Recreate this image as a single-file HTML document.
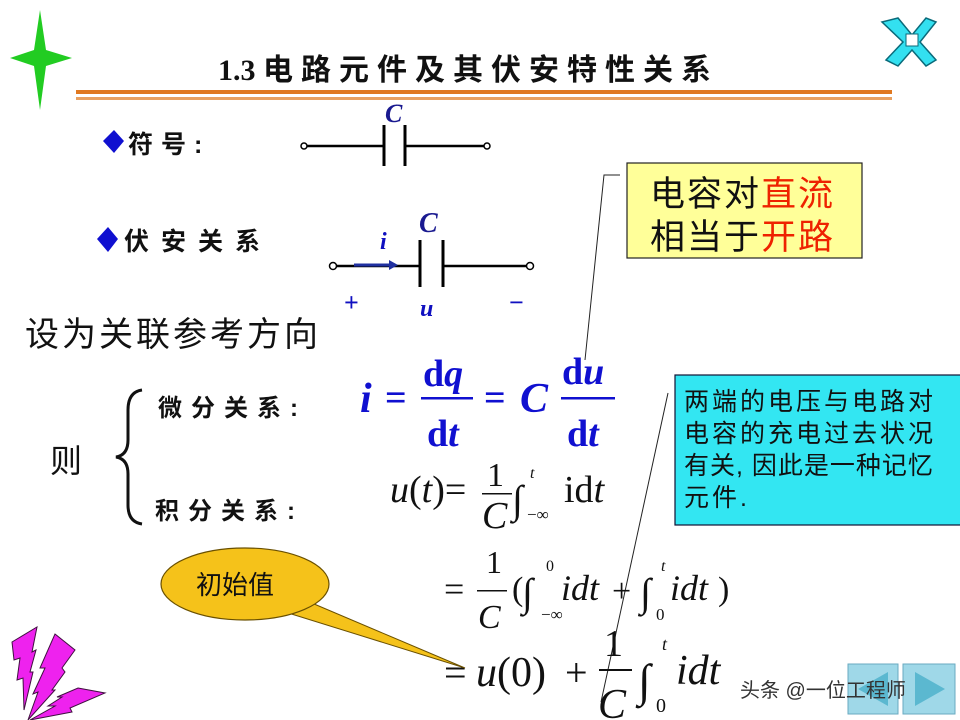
<!DOCTYPE html>
<html><head><meta charset="utf-8"><style>
html,body{margin:0;padding:0;background:#fff;}
svg{display:block;}
.cn{font-family:"Liberation Sans","Noto Sans CJK SC",sans-serif;}
.sf{font-family:"Liberation Serif","Noto Serif CJK SC",serif;}
</style></head><body>
<svg width="960" height="720" viewBox="0 0 960 720" xmlns="http://www.w3.org/2000/svg">
<polygon points="40,10 46,50 72,58 46,66 40,110 34,66 10,58 34,50" fill="#22cc22"/>
<g stroke="#0a6a7a" stroke-width="1.5" fill="#33e0f0">
<polygon points="882,22 898,18 912,35 926,18 936,22 920,42 936,60 926,66 912,50 898,66 886,60 903,42"/>
</g>
<rect x="906" y="34" width="12" height="12" fill="#fff" stroke="#0a6a7a"/>
<text x="218" y="80" font-size="30" font-weight="bold" fill="#111" style="font-family:'Liberation Serif','Noto Sans CJK SC',serif"><tspan>1.3 </tspan><tspan font-size="30" letter-spacing="8">电路元件及其伏安特性关系</tspan></text>
<rect x="76" y="90" width="816" height="4" fill="#e07820"/>
<rect x="76" y="97" width="816" height="3" fill="#e8a060"/>
<polygon points="114,130 124,141 114,153 103,141" fill="#1010d0"/>
<text x="128" y="153" class="cn" font-size="25" font-weight="bold" fill="#111" letter-spacing="8">符号:</text>
<line x1="306" y1="146" x2="384" y2="146" stroke="#000" stroke-width="2.5"/>
<line x1="405" y1="146" x2="485" y2="146" stroke="#000" stroke-width="2.5"/>
<line x1="384" y1="125" x2="384" y2="166" stroke="#000" stroke-width="3"/>
<line x1="405" y1="125" x2="405" y2="166" stroke="#000" stroke-width="3"/>
<circle cx="304" cy="146" r="3" fill="#fff" stroke="#000" stroke-width="1.5"/>
<circle cx="487" cy="146" r="3" fill="#fff" stroke="#000" stroke-width="1.5"/>
<text x="385" y="122" class="sf" font-size="26" font-weight="bold" font-style="italic" fill="#1a1a90">C</text>
<polygon points="108,227 118,239 108,252 97,239" fill="#1010d0"/>
<text x="124" y="250" class="cn" font-size="25" font-weight="bold" fill="#111" letter-spacing="12">伏安关系</text>
<line x1="334" y1="266" x2="420" y2="266" stroke="#000" stroke-width="2.5"/>
<line x1="443" y1="266" x2="528" y2="266" stroke="#000" stroke-width="2.5"/>
<line x1="420" y1="240" x2="420" y2="287" stroke="#000" stroke-width="3"/>
<line x1="443" y1="240" x2="443" y2="287" stroke="#000" stroke-width="3"/>
<circle cx="333" cy="266" r="3.5" fill="#fff" stroke="#000" stroke-width="1.5"/>
<circle cx="530" cy="266" r="3.5" fill="#fff" stroke="#000" stroke-width="1.5"/>
<line x1="354" y1="265" x2="392" y2="265" stroke="#2030a0" stroke-width="3"/>
<polygon points="398,265 389,260 389,270" fill="#2030a0"/>
<text x="419" y="232" class="sf" font-size="28" font-weight="bold" font-style="italic" fill="#1a1a90">C</text>
<text x="380" y="249" class="sf" font-size="24" font-weight="bold" font-style="italic" fill="#1010c0">i</text>
<text x="344" y="311" class="sf" font-size="26" font-weight="bold" fill="#1010c0">+</text>
<text x="420" y="316" class="sf" font-size="24" font-weight="bold" font-style="italic" fill="#1010c0">u</text>
<text x="509" y="311" class="sf" font-size="26" font-weight="bold" fill="#1010c0">−</text>
<rect x="627" y="163" width="235" height="95" fill="#ffff99" stroke="#222" stroke-width="1.2"/>
<text x="650" y="206" class="cn" font-size="35" fill="#111" letter-spacing="2">电容对<tspan fill="#ee2200">直流</tspan></text>
<text x="650" y="249" class="cn" font-size="35" fill="#111" letter-spacing="2">相当于<tspan fill="#ee2200">开路</tspan></text>
<polyline points="620,175 604,175 585,360" fill="none" stroke="#222" stroke-width="1"/>
<text x="25" y="346" class="cn" font-size="34" fill="#111" letter-spacing="3">设为关联参考方向</text>
<text x="50" y="472" class="cn" font-size="32" fill="#111">则</text>
<path d="M142,390 Q128,392 128,410 L128,440 Q128,455 116,457 Q128,459 128,474 L128,505 Q128,522 142,524" fill="none" stroke="#111" stroke-width="3"/>
<text x="158" y="416" class="cn" font-size="24" font-weight="bold" fill="#111" letter-spacing="9">微分关系:</text>
<text x="155" y="519" class="cn" font-size="24" font-weight="bold" fill="#111" letter-spacing="9">积分关系:</text>
<g class="sf" fill="#1010d0" font-weight="bold">
<text x="360" y="412" font-size="42" font-style="italic">i</text>
<text x="385" y="410" font-size="38">=</text>
<text x="423" y="386" font-size="38">d<tspan font-style="italic">q</tspan></text>
<rect x="421" y="397" width="52" height="2.5"/>
<text x="427" y="446" font-size="38">d<tspan font-style="italic">t</tspan></text>
<text x="484" y="410" font-size="38">=</text>
<text x="520" y="412" font-size="42" font-style="italic">C</text>
<text x="562" y="384" font-size="38">d<tspan font-style="italic">u</tspan></text>
<rect x="561" y="397" width="54" height="2.5"/>
<text x="567" y="446" font-size="38">d<tspan font-style="italic">t</tspan></text>
</g>
<rect x="675" y="375" width="290" height="150" fill="#33e6f2" stroke="#113" stroke-width="1.2"/>
<g class="cn" font-size="25" fill="#111" letter-spacing="3">
<text x="684" y="410">两端的电压与电路对</text>
<text x="684" y="442">电容的充电过去状况</text>
<text x="684" y="474" letter-spacing="1">有关, 因此是一种记忆</text>
<text x="684" y="506">元件.</text>
</g>
<line x1="668" y1="393" x2="601" y2="702" stroke="#222" stroke-width="1"/>
<g class="sf" fill="#111">
<text x="390" y="502" font-size="38" font-style="italic">u<tspan font-style="normal">(</tspan>t<tspan font-style="normal">)=</tspan></text>
<text x="487" y="486" font-size="34">1</text>
<rect x="482" y="493" width="30" height="1.5"/>
<text x="482" y="528" font-size="38" font-style="italic">C</text>
<text x="512" y="513" font-size="40">∫</text>
<text x="530" y="478" font-size="16" font-style="italic">t</text>
<text x="527" y="520" font-size="17">−∞</text>
<text x="564" y="502" font-size="38">id<tspan font-style="italic">t</tspan></text>
<text x="444" y="601" font-size="36">=</text>
<text x="486" y="573" font-size="32">1</text>
<rect x="477" y="590" width="30" height="1.5"/>
<text x="478" y="628" font-size="34" font-style="italic">C</text>
<text x="512" y="600" font-size="34">(</text>
<text x="522" y="606" font-size="40">∫</text>
<text x="546" y="571" font-size="16">0</text>
<text x="541" y="620" font-size="17">−∞</text>
<text x="561" y="600" font-size="36" font-style="italic">idt</text>
<text x="612" y="602" font-size="34">+</text>
<text x="640" y="606" font-size="40">∫</text>
<text x="661" y="571" font-size="16" font-style="italic">t</text>
<text x="656" y="620" font-size="17">0</text>
<text x="670" y="600" font-size="36" font-style="italic">idt</text>
<text x="718" y="600" font-size="34">)</text>
<text x="444" y="686" font-size="40">=</text>
<text x="476" y="686" font-size="42"><tspan font-style="italic">u</tspan>(0)</text>
<text x="565" y="686" font-size="40">+</text>
<text x="604" y="656" font-size="38">1</text>
<rect x="599" y="669" width="33" height="2"/>
<text x="598" y="718" font-size="42" font-style="italic">C</text>
<text x="638" y="696" font-size="46">∫</text>
<text x="662" y="650" font-size="18" font-style="italic">t</text>
<text x="656" y="712" font-size="20">0</text>
<text x="676" y="684" font-size="42" font-style="italic">idt</text>
</g>
<path d="M300,598 L465,668 L285,612 Z" fill="#f5c21a" stroke="#6a5000" stroke-width="1"/>
<ellipse cx="245" cy="584" rx="84" ry="36" fill="#f5c21a" stroke="#6a5000" stroke-width="1.2"/>
<path d="M300,598 L285,612" stroke="#f5c21a" stroke-width="3"/>
<text x="196" y="594" class="cn" font-size="26" fill="#111">初始值</text>
<g fill="#ee22ee" stroke="#401040" stroke-width="1">
<polygon points="12,642 37,627 32,652 36,650 30,672 33,672 24,710 23,678 17,680 20,658 14,660"/>
<polygon points="55,634 75,650 62,668 65,672 52,690 55,690 28,720 38,692 33,694 45,668 40,668"/>
<polygon points="78,688 105,693 70,708 72,712 30,720 55,706 48,706 62,697 57,697"/>
</g>
<rect x="848" y="664" width="50" height="50" fill="#9fd8e8" stroke="#6aaac0"/>
<polygon points="858,689 888,672 888,706" fill="#5bb8d0"/>
<rect x="903" y="664" width="52" height="50" fill="#9fd8e8" stroke="#6aaac0"/>
<polygon points="945,689 915,672 915,706" fill="#5bb8d0"/>
<text x="740" y="697" class="cn" font-size="20" fill="#333">头条 @一位工程师</text>
</svg>
</body></html>
